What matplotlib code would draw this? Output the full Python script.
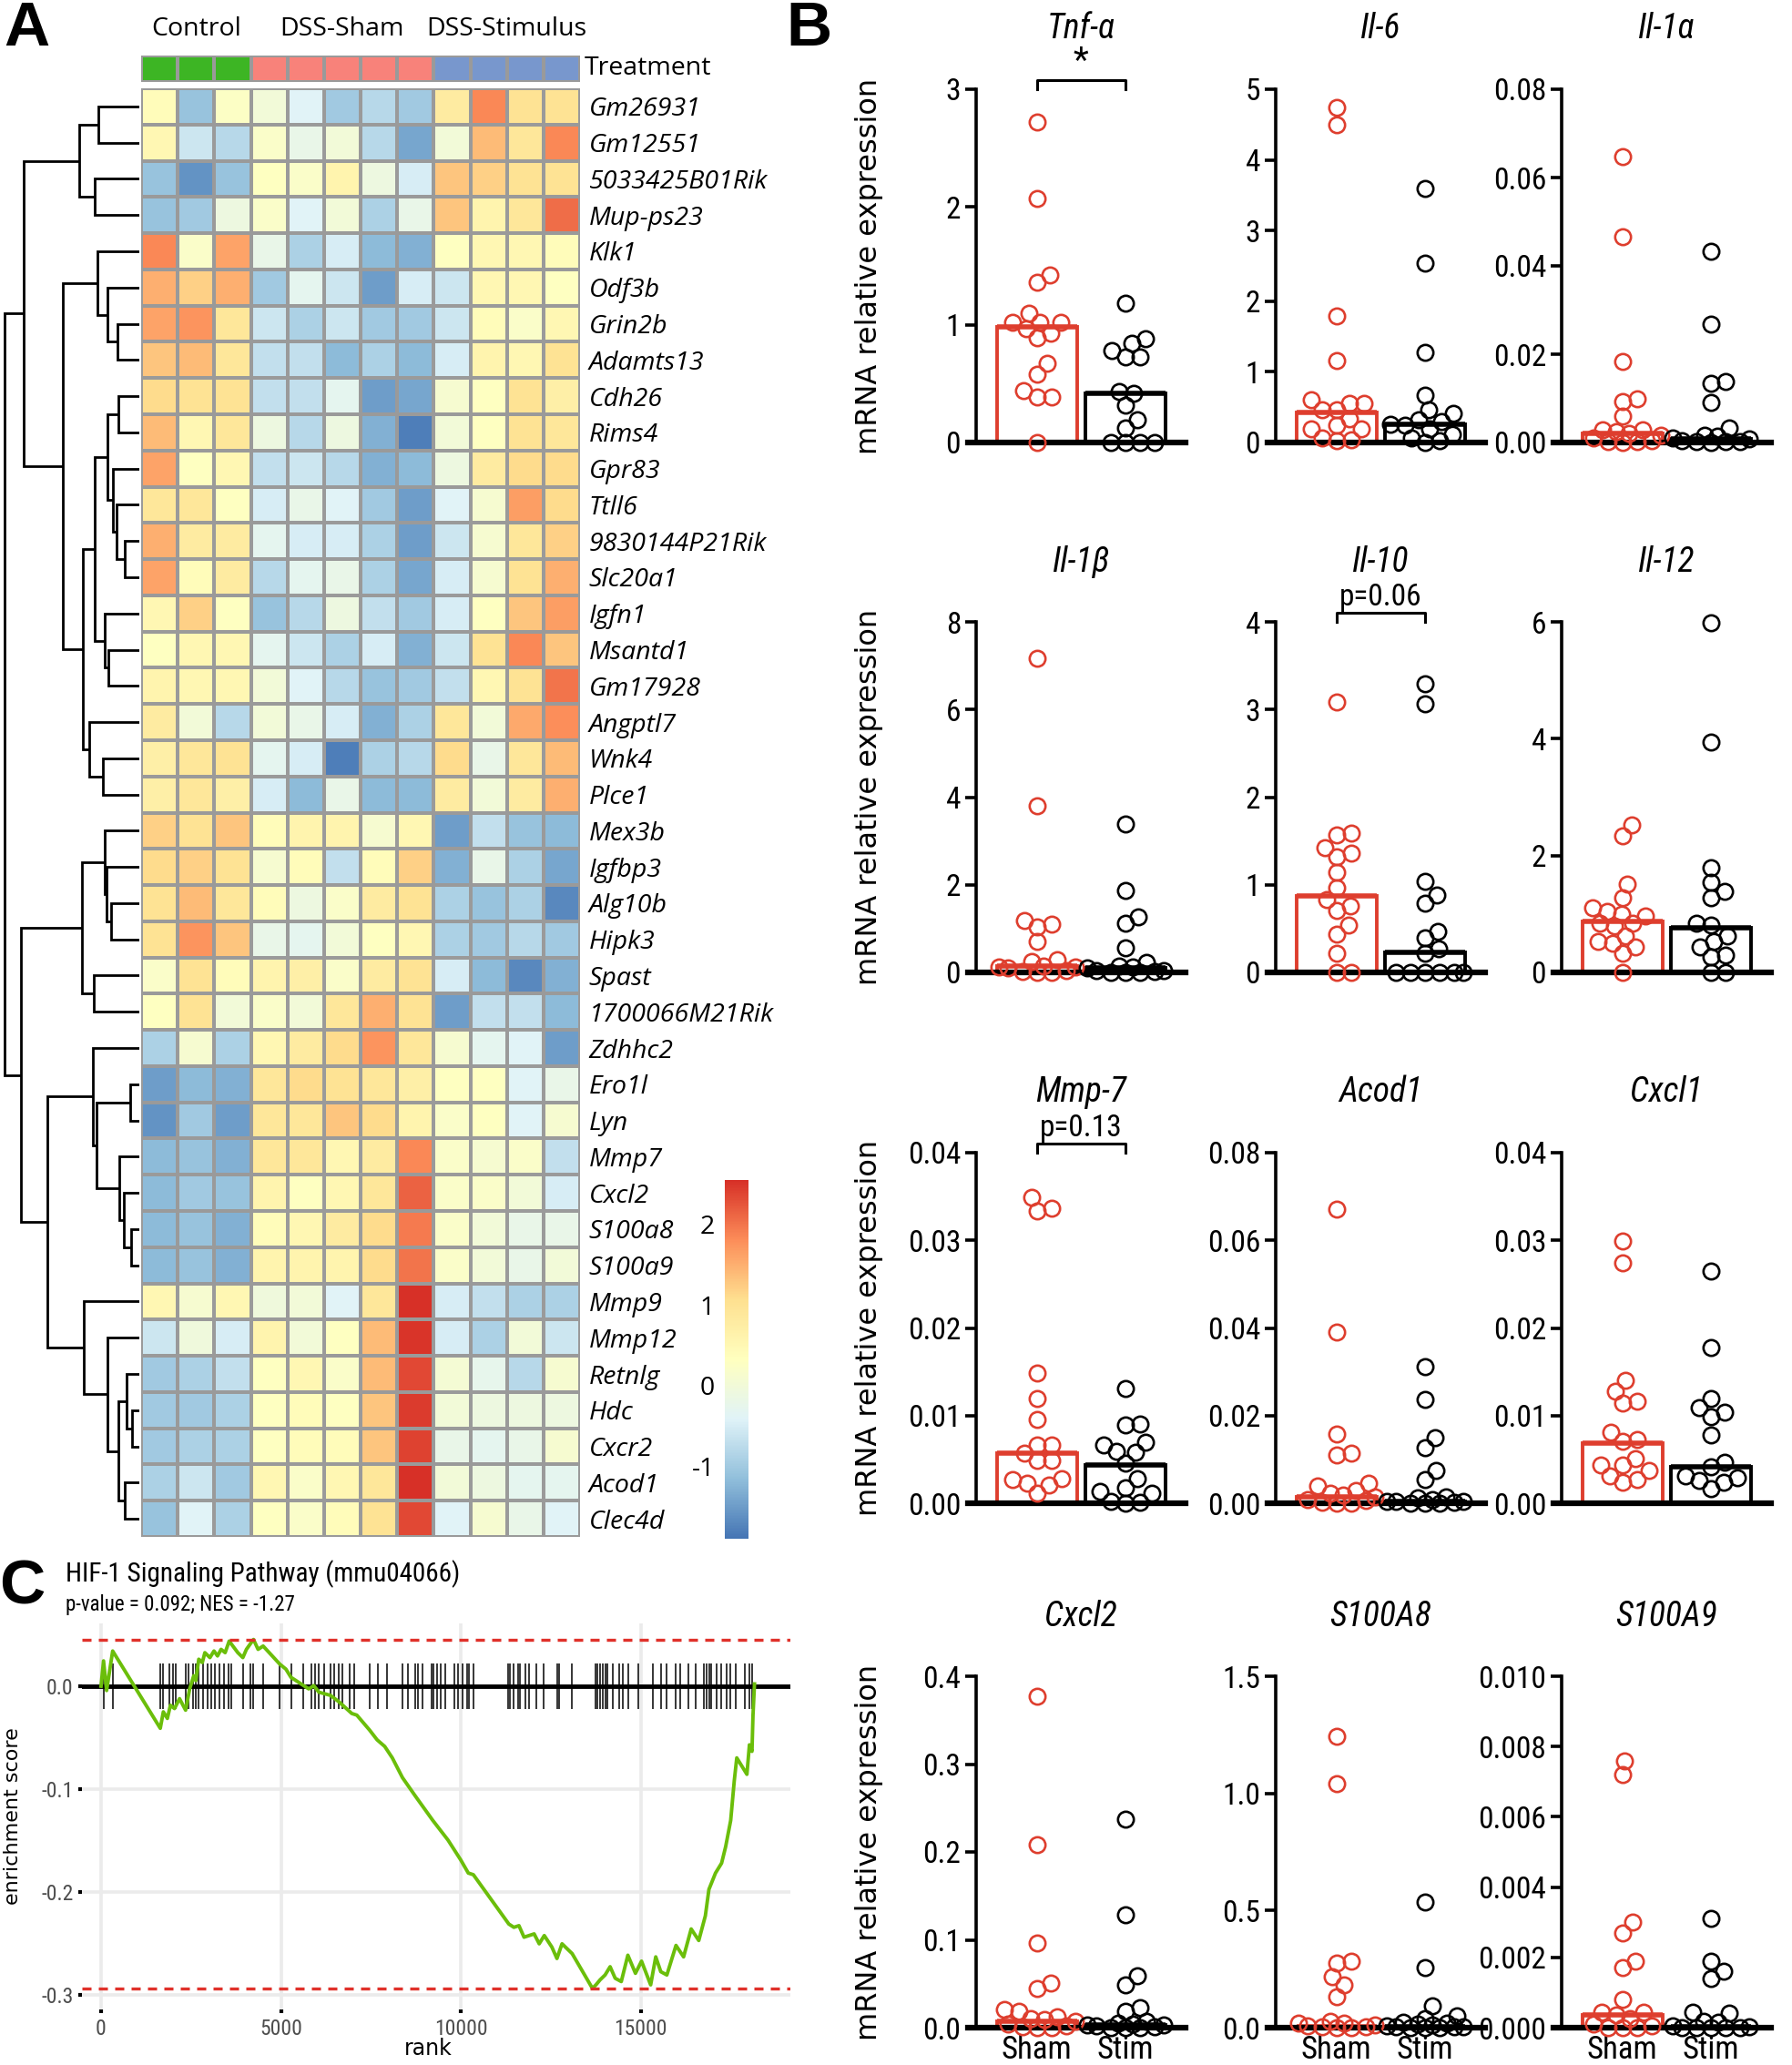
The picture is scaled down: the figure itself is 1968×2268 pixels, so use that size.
import numpy as np
import matplotlib
matplotlib.use('Agg')
import matplotlib.pyplot as plt
from matplotlib import font_manager as fm
from matplotlib.colors import LinearSegmentedColormap, ListedColormap, Normalize
from matplotlib.cm import ScalarMappable
import matplotlib.transforms as mtransforms

plt.rcParams['axes.unicode_minus'] = False

# ---------------- fonts ----------------
names = {f.name for f in fm.fontManager.ttflist}
narrow = next((n for n in ['Liberation Sans Narrow', 'Roboto Condensed', 'DejaVu Sans Condensed']
               if n in names), 'Liberation Sans')
plain = 'Open Sans' if 'Open Sans' in names else 'DejaVu Sans'

# ---------------- panel A data ----------------
genes = ['Gm26931', 'Gm12551', '5033425B01Rik', 'Mup-ps23', 'Klk1', 'Odf3b', 'Grin2b',
         'Adamts13', 'Cdh26', 'Rims4', 'Gpr83', 'Ttll6', '9830144P21Rik', 'Slc20a1',
         'Igfn1', 'Msantd1', 'Gm17928', 'Angptl7', 'Wnk4', 'Plce1', 'Mex3b', 'Igfbp3',
         'Alg10b', 'Hipk3', 'Spast', '1700066M21Rik', 'Zdhhc2', 'Ero1l', 'Lyn', 'Mmp7',
         'Cxcl2', 'S100a8', 'S100a9', 'Mmp9', 'Mmp12', 'Retnlg', 'Hdc', 'Cxcr2',
         'Acod1', 'Clec4d']
groups = ['Control'] * 3 + ['DSS-Sham'] * 5 + ['DSS-Stimulus'] * 4
group_colors = {'Control': '#3DB524', 'DSS-Sham': '#F8827A', 'DSS-Stimulus': '#7897CD'}

expr = np.array([
    [0.4, -1.1, 0.25, 0.0, -0.4, -1.0, -0.8, -1.0, 0.8, 1.85, 1.0, 1.0],
    [0.5, -0.6, -0.8, 0.2, -0.2, 0.0, -0.8, -1.4, 0.0, 1.4, 0.9, 1.85],
    [-1.1, -1.6, -1.1, 0.3, 0.2, 0.6, -0.1, -0.5, 1.3, 1.2, 1.0, 1.0],
    [-1.1, -1.0, -0.1, 0.2, -0.4, 0.0, -0.9, -0.2, 1.3, 0.6, 0.9, 2.05],
    [1.85, 0.2, 1.6, -0.2, -0.9, -0.5, -1.2, -1.3, 0.3, 0.5, 0.5, 0.4],
    [1.5, 1.2, 1.5, -1.0, -0.3, -0.6, -1.5, -0.5, -0.6, 0.5, 0.5, 0.3],
    [1.6, 1.75, 0.9, -0.6, -0.9, -0.6, -1.0, -1.0, -0.6, 0.4, 0.2, 0.5],
    [1.3, 1.4, 0.9, -0.7, -0.7, -1.2, -0.9, -1.2, -0.5, 0.6, 0.5, 1.0],
    [1.1, 1.0, 1.0, -0.7, -0.7, -0.3, -1.5, -1.4, 0.1, 0.3, 1.0, 0.7],
    [1.4, 0.5, 0.9, -0.1, -0.8, -0.1, -1.3, -1.8, 0.0, 0.3, 1.0, 0.9],
    [1.6, 0.3, 0.5, -0.7, -0.6, -0.8, -1.3, -1.2, -0.1, 0.8, 1.1, 1.1],
    [0.9, 0.9, 0.3, -0.5, -0.2, -0.4, -1.0, -1.5, -0.4, 0.1, 1.65, 1.1],
    [1.5, 0.8, 0.8, -0.3, -0.5, -0.5, -0.9, -1.5, -0.6, 0.1, 0.9, 1.2],
    [1.6, 0.4, 0.8, -0.8, -0.3, -0.2, -0.9, -1.4, -0.5, 0.1, 1.0, 1.5],
    [0.5, 1.2, 0.3, -1.1, -0.8, -0.1, -0.7, -1.0, -0.5, 0.3, 1.3, 1.65],
    [0.3, 0.5, 0.5, -0.3, -0.6, -0.9, -0.5, -1.3, -0.6, 1.0, 1.85, 1.3],
    [0.6, 0.5, 0.5, 0.0, -0.4, -0.8, -1.1, -1.0, -0.7, 0.5, 1.0, 2.0],
    [0.8, 0.0, -0.8, 0.0, -0.2, -0.5, -1.3, -0.9, 0.9, 0.0, 1.55, 1.8],
    [0.7, 0.9, 1.0, -0.3, -0.5, -1.8, -0.9, -0.8, 1.1, -0.2, 0.9, 1.4],
    [0.7, 0.9, 0.7, -0.5, -1.2, -0.2, -1.2, -1.2, 0.8, 0.0, 0.8, 1.5],
    [1.2, 1.0, 1.3, 0.4, 0.6, 0.6, 0.1, 0.5, -1.5, -0.7, -1.1, -1.2],
    [1.1, 1.2, 1.0, 0.1, 0.4, -0.7, 0.4, 1.2, -1.3, -0.2, -0.9, -1.4],
    [1.0, 1.4, 0.9, 0.4, -0.1, 0.2, 0.8, 1.0, -0.9, -1.1, -0.9, -1.7],
    [1.0, 1.75, 1.3, -0.2, -0.3, 0.0, 0.3, 0.5, -0.9, -1.0, -0.8, -1.0],
    [0.2, 1.0, 0.4, 0.6, 0.7, 0.2, 0.8, 1.0, -0.5, -1.2, -1.7, -1.3],
    [0.3, 1.0, 0.0, 0.2, 0.0, 0.9, 1.5, 1.0, -1.5, -0.7, -0.7, -1.2],
    [-0.9, 0.1, -0.9, 0.5, 0.8, 1.1, 1.75, 0.9, 0.1, -0.3, -0.4, -1.5],
    [-1.5, -1.2, -1.3, 0.9, 1.1, 1.0, 0.9, 0.7, 0.3, 0.3, -0.4, -0.2],
    [-1.6, -1.0, -1.5, 0.9, 0.9, 1.3, 1.1, 0.6, 0.2, 0.3, -0.4, 0.1],
    [-1.2, -1.1, -1.3, 0.9, 0.9, 0.5, 0.8, 1.85, 0.2, 0.1, 0.2, -0.7],
    [-1.2, -1.0, -1.1, 0.6, 0.3, 0.5, 0.9, 2.15, 0.2, 0.2, 0.0, -0.5],
    [-1.2, -1.1, -1.3, 0.4, 0.5, 0.8, 1.1, 1.95, 0.2, 0.0, -0.2, -0.2],
    [-1.2, -1.1, -1.3, 0.6, 0.6, 0.6, 1.1, 2.0, 0.2, 0.0, -0.2, 0.0],
    [0.5, 0.1, 0.5, -0.05, 0.0, -0.4, 0.9, 2.55, -0.5, -0.7, -0.9, -0.9],
    [-0.6, -0.05, -0.5, 0.6, 0.0, 0.3, 1.4, 2.5, -0.5, -0.9, 0.0, -0.6],
    [-1.0, -0.9, -0.7, 0.3, 0.5, 0.2, 1.4, 2.35, 0.05, -0.25, -0.8, 0.1],
    [-1.0, -1.0, -0.9, 0.3, 0.4, 0.3, 1.3, 2.45, 0.0, -0.1, -0.1, -0.1],
    [-1.0, -0.9, -0.9, 0.3, 0.4, 0.4, 1.3, 2.4, -0.2, -0.3, -0.2, 0.1],
    [-0.9, -0.6, -1.0, 0.5, 0.2, 0.5, 0.9, 2.55, 0.0, -0.1, -0.3, -0.3],
    [-1.1, -0.4, -0.9, 0.3, 0.2, 0.4, 1.0, 2.35, -0.4, 0.1, -0.2, -0.4],
])
scale_min, scale_max = -1.9, 2.55
cbar_ticks = [-1, 0, 1, 2]

# row dendrogram: (left node, right node, height); leaves 0..39, new nodes 40..
linkage = [
    (0, 1, 0.303), (2, 3, 0.330), (40, 41, 0.445),
    (6, 7, 0.162), (5, 43, 0.240), (4, 44, 0.308),
    (8, 9, 0.153), (12, 13, 0.106), (11, 47, 0.169), (10, 48, 0.198), (46, 49, 0.236),
    (15, 16, 0.229), (14, 51, 0.258), (50, 52, 0.330),
    (18, 19, 0.270), (17, 54, 0.371), (53, 55, 0.422), (45, 56, 0.569), (42, 57, 0.861),
    (22, 23, 0.207), (21, 59, 0.243), (20, 60, 0.258), (24, 25, 0.337), (61, 62, 0.427),
    (27, 28, 0.067), (31, 32, 0.063), (30, 65, 0.112), (29, 66, 0.146), (64, 67, 0.319),
    (26, 68, 0.348), (36, 37, 0.052), (35, 70, 0.094), (38, 39, 0.108), (71, 72, 0.157),
    (34, 73, 0.236), (33, 74, 0.416), (69, 75, 0.685), (63, 76, 0.881), (58, 77, 1.0),
]

# ---------------- panel B data ----------------
b_genes = ['Tnf-α', 'Il-6', 'Il-1α', 'Il-1β', 'Il-10', 'Il-12',
           'Mmp-7', 'Acod1', 'Cxcl1', 'Cxcl2', 'S100A8', 'S100A9']
sham_vals = [
    [2.72, 2.07, 1.42, 1.36, 1.10, 1.02, 1.02, 1.02, 0.97, 0.93, 0.89, 0.67, 0.58, 0.44, 0.39, 0.39, 0.0],
    [4.74, 4.5, 1.79, 1.16, 0.6, 0.56, 0.56, 0.47, 0.47, 0.34, 0.25, 0.19, 0.19, 0.06, 0.04, 0.02],
    [0.0648, 0.0467, 0.0184, 0.0100, 0.0093, 0.0059, 0.0028, 0.0028, 0.0024, 0.0021, 0.0017,
     0.0010, 0.0005, 0.0003, 0.0002, 0.0],
    [7.17, 3.80, 1.18, 1.10, 1.03, 0.70, 0.30, 0.25, 0.15, 0.13, 0.12, 0.10, 0.05, 0.02, 0.01, 0.0],
    [3.09, 1.59, 1.57, 1.42, 1.36, 1.32, 1.14, 0.97, 0.83, 0.76, 0.71, 0.54, 0.44, 0.22, 0.0, 0.0],
    [2.53, 2.34, 1.51, 1.28, 1.10, 1.05, 1.00, 0.97, 0.84, 0.84, 0.79, 0.63, 0.53, 0.50, 0.43, 0.32, 0.0],
    [0.0349, 0.0337, 0.0334, 0.0149, 0.0120, 0.0096, 0.0067, 0.0066, 0.0057, 0.0049, 0.0049,
     0.0028, 0.0027, 0.0023, 0.0021, 0.0011],
    [0.0672, 0.0391, 0.0157, 0.0114, 0.0110, 0.0046, 0.0039, 0.0029, 0.0022, 0.0019, 0.0015,
     0.0008, 0.0007, 0.0002, 0.0001, 0.0],
    [0.0299, 0.0274, 0.0140, 0.0128, 0.0116, 0.0114, 0.0081, 0.0073, 0.0071, 0.0051, 0.0044,
     0.0044, 0.0037, 0.0031, 0.0027, 0.0024],
    [0.377, 0.208, 0.096, 0.051, 0.045, 0.021, 0.019, 0.012, 0.010, 0.009, 0.007, 0.004,
     0.002, 0.001, 0.0, 0.0],
    [1.245, 1.040, 0.285, 0.275, 0.216, 0.183, 0.131, 0.026, 0.020, 0.020, 0.013, 0.007,
     0.004, 0.002, 0.001, 0.0],
    [0.0076, 0.0072, 0.0030, 0.0027, 0.0019, 0.0017, 0.0008, 0.00045, 0.00043, 0.00037,
     0.00026, 0.0001, 0.00005, 0.0, 0.0, 0.0],
]
stim_vals = [
    [1.18, 0.88, 0.84, 0.78, 0.73, 0.73, 0.43, 0.42, 0.32, 0.19, 0.12, 0.0, 0.0, 0.0, 0.0],
    [3.59, 2.54, 1.28, 0.67, 0.47, 0.41, 0.32, 0.30, 0.26, 0.24, 0.19, 0.11, 0.06, 0.02, 0.0],
    [0.0432, 0.0269, 0.0138, 0.0134, 0.0090, 0.0034, 0.0017, 0.0014, 0.0010, 0.0008, 0.0005,
     0.0003, 0.0003, 0.0002, 0.0],
    [3.39, 1.87, 1.27, 1.12, 0.56, 0.23, 0.15, 0.12, 0.10, 0.05, 0.05, 0.03, 0.01, 0.0, 0.0],
    [3.29, 3.06, 1.04, 0.88, 0.79, 0.47, 0.40, 0.27, 0.22, 0.0, 0.0, 0.0, 0.0, 0.0, 0.0],
    [5.99, 3.95, 1.80, 1.54, 1.38, 1.28, 0.84, 0.81, 0.63, 0.53, 0.43, 0.30, 0.26, 0.0, 0.0],
    [0.0131, 0.0090, 0.0089, 0.0070, 0.0066, 0.0059, 0.0058, 0.0046, 0.0028, 0.0018, 0.0013,
     0.0011, 0.0002, 0.0001, 0.0],
    [0.0312, 0.0236, 0.0150, 0.0126, 0.0074, 0.0053, 0.0015, 0.0012, 0.0008, 0.0005, 0.0005,
     0.0004, 0.0003, 0.0001, 0.0, 0.0],
    [0.0265, 0.0178, 0.0119, 0.0109, 0.0104, 0.0099, 0.0078, 0.0047, 0.0042, 0.0031, 0.0029,
     0.0026, 0.0024, 0.0017],
    [0.237, 0.128, 0.059, 0.049, 0.023, 0.019, 0.007, 0.005, 0.004, 0.003, 0.003, 0.002,
     0.001, 0.0, 0.0, 0.0],
    [0.536, 0.255, 0.092, 0.052, 0.039, 0.022, 0.018, 0.014, 0.010, 0.006, 0.004, 0.003,
     0.002, 0.001, 0.0, 0.0],
    [0.0031, 0.0019, 0.0016, 0.0014, 0.00044, 0.00042, 0.00017, 0.00015, 0.00005, 0.00002,
     0.0, 0.0, 0.0, 0.0, 0.0],
]
sham_bar = [0.98, 0.42, 0.0021, 0.14, 0.87, 0.87, 0.0057, 0.0015, 0.0069, 0.007, 0.005, 0.00037]
stim_bar = [0.42, 0.26, 0.0009, 0.10, 0.23, 0.76, 0.0044, 0.0005, 0.0042, 0.0035, 0.005, 0.00002]
y_max = [3, 5, 0.08, 8, 4, 6, 0.04, 0.08, 0.04, 0.4, 1.5, 0.010]
y_step = [1, 1, 0.02, 2, 1, 2, 0.01, 0.02, 0.01, 0.1, 0.5, 0.002]
y_dec = [0, 0, 2, 0, 0, 0, 2, 2, 2, 1, 1, 3]
sig_text = {0: '*', 4: 'p=0.06', 6: 'p=0.13'}
b_xlabels = ['Sham', 'Stim']

# ---------------- panel C data ----------------
es_rank = [0, 70, 155, 324, 1647, 1732, 1844, 1929, 2042, 2182, 2351, 2464, 2577, 2633, 2717,
           2816, 2886, 3027, 3140, 3238, 3337, 3450, 3562, 3802, 3942, 4041, 4238, 4365, 4506,
           4970, 5139, 5280, 5421, 5632, 5773, 5914, 6054, 6378, 6618, 6970, 7110, 7462, 7674,
           7885, 8096, 8378, 8730, 9222, 9645, 9997, 10208, 10349, 11334, 11475, 11616, 11757,
           12038, 12179, 12320, 12531, 12672, 12813, 12954, 13094, 13658, 13756, 13869, 14010,
           14150, 14291, 14460, 14643, 14854, 15023, 15277, 15418, 15558, 15727, 15981, 16192,
           16403, 16614, 16797, 16896, 17079, 17248, 17361, 17501, 17600, 17670, 17952, 18022,
           18093, 18121, 18163]
es_score = [0.0, 0.0246, -0.0042, 0.0342, -0.0409, -0.0249, -0.0313, -0.0185, -0.0217, -0.0121,
            -0.0233, -0.0026, 0.0102, 0.0054, 0.0262, 0.0230, 0.0326, 0.0278, 0.0342, 0.0294,
            0.0358, 0.0326, 0.0438, 0.0326, 0.0278, 0.0358, 0.0454, 0.0358, 0.0390, 0.0214,
            0.0166, 0.0086, 0.0054, 0.0006, -0.0026, 0.0006, -0.0058, -0.0089, -0.0153, -0.0265,
            -0.0281, -0.0425, -0.0521, -0.0585, -0.0696, -0.0888, -0.1064, -0.1304, -0.1495,
            -0.1687, -0.1815, -0.1831, -0.2310, -0.2342, -0.2326, -0.2438, -0.2406, -0.2502,
            -0.2422, -0.2534, -0.2645, -0.2502, -0.2550, -0.2597, -0.2935, -0.2901, -0.2853,
            -0.2805, -0.2725, -0.2837, -0.2869, -0.2613, -0.2789, -0.2671, -0.2901, -0.2629,
            -0.2773, -0.2805, -0.2518, -0.2629, -0.2358, -0.2470, -0.2230, -0.1974, -0.1815,
            -0.1719, -0.1559, -0.1304, -0.0920, -0.0696, -0.0856, -0.0569, -0.0633, -0.0281,
            0.0022]
hit_rank = [70, 324, 1647, 1732, 1901, 2013, 2070, 2351, 2436, 2548, 2633, 2717, 2844, 2957,
            3055, 3168, 3281, 3407, 3534, 3619, 3942, 4154, 4224, 4506, 4970, 5280, 5632, 5843,
            5956, 6054, 6195, 6378, 6477, 6618, 6716, 6899, 7040, 7462, 7702, 7955, 8378, 8518,
            8730, 8800, 8941, 9194, 9251, 9335, 9434, 9574, 9814, 9926, 10039, 10180, 10236,
            10349, 11306, 11363, 11475, 11588, 11644, 11785, 11898, 12109, 12292, 12672, 12742,
            13094, 13756, 13798, 13869, 13939, 14010, 14080, 14221, 14404, 14502, 14643, 14925,
            15347, 15558, 15727, 15981, 16094, 16333, 16516, 16755, 16826, 16896, 16966, 17107,
            17248, 17389, 17501, 17642, 17882, 18022, 18093]

W, H = 1968, 2268
fig = plt.figure(figsize=(W / 100, H / 100), dpi=100)


def box(x0, y0, x1, y1):
    # pixel box (top-left origin) -> figure fraction rect
    return [x0 / W, 1 - y1 / H, (x1 - x0) / W, (y1 - y0) / H]


# ================= Panel A =================
cmap = LinearSegmentedColormap.from_list(
    'rdylbu', ['#4575B4', '#91BFDB', '#E0F3F8', '#FFFFBF', '#FEE090', '#FC8D59', '#D73027'])
norm = Normalize(scale_min, scale_max)
n_rows, n_cols = expr.shape

ax_hm = fig.add_axes(box(155, 97, 637, 1688))
ax_hm.pcolormesh(expr, cmap=cmap, norm=norm, edgecolors='#9A9A9A', linewidth=1.6)
ax_hm.set_xlim(0, n_cols)
ax_hm.set_ylim(n_rows, 0)
for s in ax_hm.spines.values():
    s.set_visible(False)
ax_hm.set_xticks([])
ax_hm.yaxis.tick_right()
ax_hm.set_yticks(np.arange(n_rows) + 0.5)
ax_hm.set_yticklabels(genes, fontstyle='italic', fontsize=20.5, family=plain)
ax_hm.tick_params(axis='y', length=0, pad=7)

# treatment annotation bar
ax_an = fig.add_axes(box(155, 61, 637, 90))
uniq = list(dict.fromkeys(groups))
codes = np.array([[uniq.index(g) for g in groups]])
ax_an.pcolormesh(codes, cmap=ListedColormap([group_colors[g] for g in uniq]),
                 vmin=-0.5, vmax=len(uniq) - 0.5, edgecolors='#9A9A9A', linewidth=1.6)
ax_an.set_xlim(0, n_cols)
ax_an.set_ylim(1, 0)
ax_an.axis('off')
for g in uniq:
    idx = [i for i, gg in enumerate(groups) if gg == g]
    ax_an.text(np.mean(idx) + 0.5, -1.0, g, ha='center', va='center', fontsize=20.5, family=plain)
ax_an.text(n_cols + 0.12, 0.5, 'Treatment', ha='left', va='center', fontsize=20.5, family=plain)

# dendrogram
ax_dg = fig.add_axes(box(3, 97, 153, 1688))
pos = {i: i + 0.5 for i in range(n_rows)}
hgt = {i: 0.0 for i in range(n_rows)}
for k, (a, b, h) in enumerate(linkage):
    node = n_rows + k
    ax_dg.plot([hgt[a], h, h, hgt[b]], [pos[a], pos[a], pos[b], pos[b]],
               color='black', lw=2.0, solid_capstyle='butt', solid_joinstyle='miter')
    pos[node] = (pos[a] + pos[b]) / 2
    hgt[node] = h
ax_dg.set_xlim(1.015, 0)
ax_dg.set_ylim(n_rows, 0)
ax_dg.axis('off')

# colour key
cax = fig.add_axes(box(796, 1296, 822, 1690))
cb = fig.colorbar(ScalarMappable(norm=norm, cmap=cmap), cax=cax, ticks=cbar_ticks)
cb.outline.set_visible(False)
cax.yaxis.set_ticks_position('left')
cax.tick_params(length=0, labelsize=20.5, pad=8)
for lab in cax.get_yticklabels():
    lab.set_family(plain)

# ================= Panel B =================
red = '#DE3E2E'
col_left = [1063, 1392, 1706]
row_top = [98, 683, 1266, 1841]
row_bot = [486, 1068, 1651, 2227]
px_per_x = 97.0


def swarm(vals, ymax, h_px, d_px=15.5, cap_px=42):
    vals = np.asarray(vals, dtype=float)
    ypx = vals / ymax * h_px
    cands = [0]
    for k in range(1, cap_px + 1):
        cands += [k, -k]
    placed, offs = [], np.zeros(len(vals))
    for i in np.argsort(vals):
        best, best_d = 0, -1.0
        for c in cands:
            dmin = min([np.hypot(c - px, ypx[i] - py) for px, py in placed] or [1e9])
            if dmin >= d_px:
                best = c
                break
            if dmin > best_d + 0.5:
                best, best_d = c, dmin
        placed.append((best, ypx[i]))
        offs[i] = best / px_per_x
    return offs


for i, name in enumerate(b_genes):
    r, c = divmod(i, 3)
    x0 = col_left[c]
    ax = fig.add_axes(box(x0, row_top[r], x0 + 239, row_bot[r]))
    h_px = row_bot[r] - row_top[r]
    ax.set_xlim(-0.78, 1.68)
    ax.set_ylim(0, y_max[i])
    for s in ['top', 'right']:
        ax.spines[s].set_visible(False)
    ax.spines['left'].set_position(('data', -0.69))
    ax.spines['left'].set_linewidth(2.6)
    ax.spines['bottom'].set_linewidth(4.5)

    ax.bar([0, 1], [sham_bar[i], stim_bar[i]], width=0.9, facecolor='none',
           edgecolor=[red, 'black'], linewidth=2.8, zorder=2)
    ax.hlines([sham_bar[i], stim_bar[i]], [-0.45, 0.55], [0.45, 1.45],
              colors=[red, 'black'], lw=4, zorder=2)

    for gx, vals, colr in [(0, sham_vals[i], red), (1, stim_vals[i], 'black')]:
        offs = swarm(vals, y_max[i], h_px)
        ax.plot(gx + offs, vals, 'o', mfc='none', mec=colr, ms=12.5, mew=1.9,
                clip_on=False, zorder=3)

    ticks = np.arange(0, y_max[i] + y_step[i] / 2, y_step[i])
    ax.set_yticks(ticks)
    ax.set_yticklabels([f'{t:.{y_dec[i]}f}' for t in ticks], family=narrow, fontsize=24)
    ax.tick_params(axis='y', direction='out', length=9, width=2.6, pad=3)
    if r == 3:
        ax.set_xticks([0, 1])
        ax.set_xticklabels(b_xlabels, family=narrow, fontsize=25)
        ax.tick_params(axis='x', length=0, pad=6)
    else:
        ax.set_xticks([])

    trans = mtransforms.blended_transform_factory(ax.transData, ax.transAxes)
    ax.text(0.5, 1 + 66 / h_px, name, transform=trans, ha='center', va='center',
            fontsize=27, fontstyle='italic', family=narrow)
    if i in sig_text:
        ax.plot([0, 0, 1, 1], [1.0, 1.025, 1.025, 1.0], transform=trans, color='black',
                lw=2.2, clip_on=False)
        ax.text(0.5, 1.028 if sig_text[i] != '*' else 1.03, sig_text[i], transform=trans,
                ha='center', va='bottom', fontsize=24 if sig_text[i] != '*' else 28,
                family=narrow)
    if c == 0:
        fig.text(955 / W, 1 - (row_top[r] + row_bot[r]) / 2 / H, 'mRNA relative expression',
                 rotation=90, ha='center', va='center', fontsize=23, family='DejaVu Sans')

# ================= Panel C =================
axc = fig.add_axes(box(90, 1783, 868, 2207))
axc.set_xlim(-530, 19160)
axc.set_ylim(-0.314, 0.061)
for s in axc.spines.values():
    s.set_visible(False)
axc.set_yticks([0, -0.1, -0.2, -0.3])
axc.set_yticklabels(['0.0', '-0.1', '-0.2', '-0.3'])
axc.set_xticks([0, 5000, 10000, 15000])
axc.set_xticklabels(['0', '5000', '10000', '15000'])
axc.grid(color='#EBEBEB', lw=2.6)
axc.set_axisbelow(True)
axc.tick_params(length=3, width=3, color='black', labelcolor='#4D4D4D', labelsize=17, pad=4)
for lab in axc.get_xticklabels() + axc.get_yticklabels():
    lab.set_family(narrow)
axc.axhline(0, color='black', lw=3.5, zorder=2)
axc.vlines(hit_rank, -0.022, 0.022, color='black', lw=1.1, zorder=3)
axc.plot(es_rank, es_score, color='#6BBE0A', lw=2.8, zorder=4)
axc.axhline(max(es_score), color='#E0312A', lw=2.4, ls=(0, (3, 2.4)), zorder=5)
axc.axhline(min(es_score), color='#E0312A', lw=2.4, ls=(0, (3, 2.4)), zorder=5)
fig.text(14 / W, 1 - 1995 / H, 'enrichment score', rotation=90, ha='center', va='center',
         fontsize=16, family='DejaVu Sans')
fig.text(470 / W, 1 - 2250 / H, 'rank', ha='center', va='center', fontsize=17,
         family='DejaVu Sans')
fig.text(72 / W, 1 - 1729 / H, 'HIF-1 Signaling Pathway (mmu04066)', ha='left', va='center',
         fontsize=21, family=narrow)
fig.text(72 / W, 1 - 1762 / H, 'p-value = 0.092; NES = -1.27', ha='left', va='center',
         fontsize=16.5, family=narrow)

# panel letters
for letter, x, y in [('A', 4, 32), ('B', 888, 32), ('C', 24, 1744)]:
    fig.text(x / W, 1 - y / H, letter, ha='center' if letter != 'A' else 'left', va='center',
             fontsize=50, fontweight='bold', family='Liberation Sans')

fig.savefig('out.png', dpi=100)
